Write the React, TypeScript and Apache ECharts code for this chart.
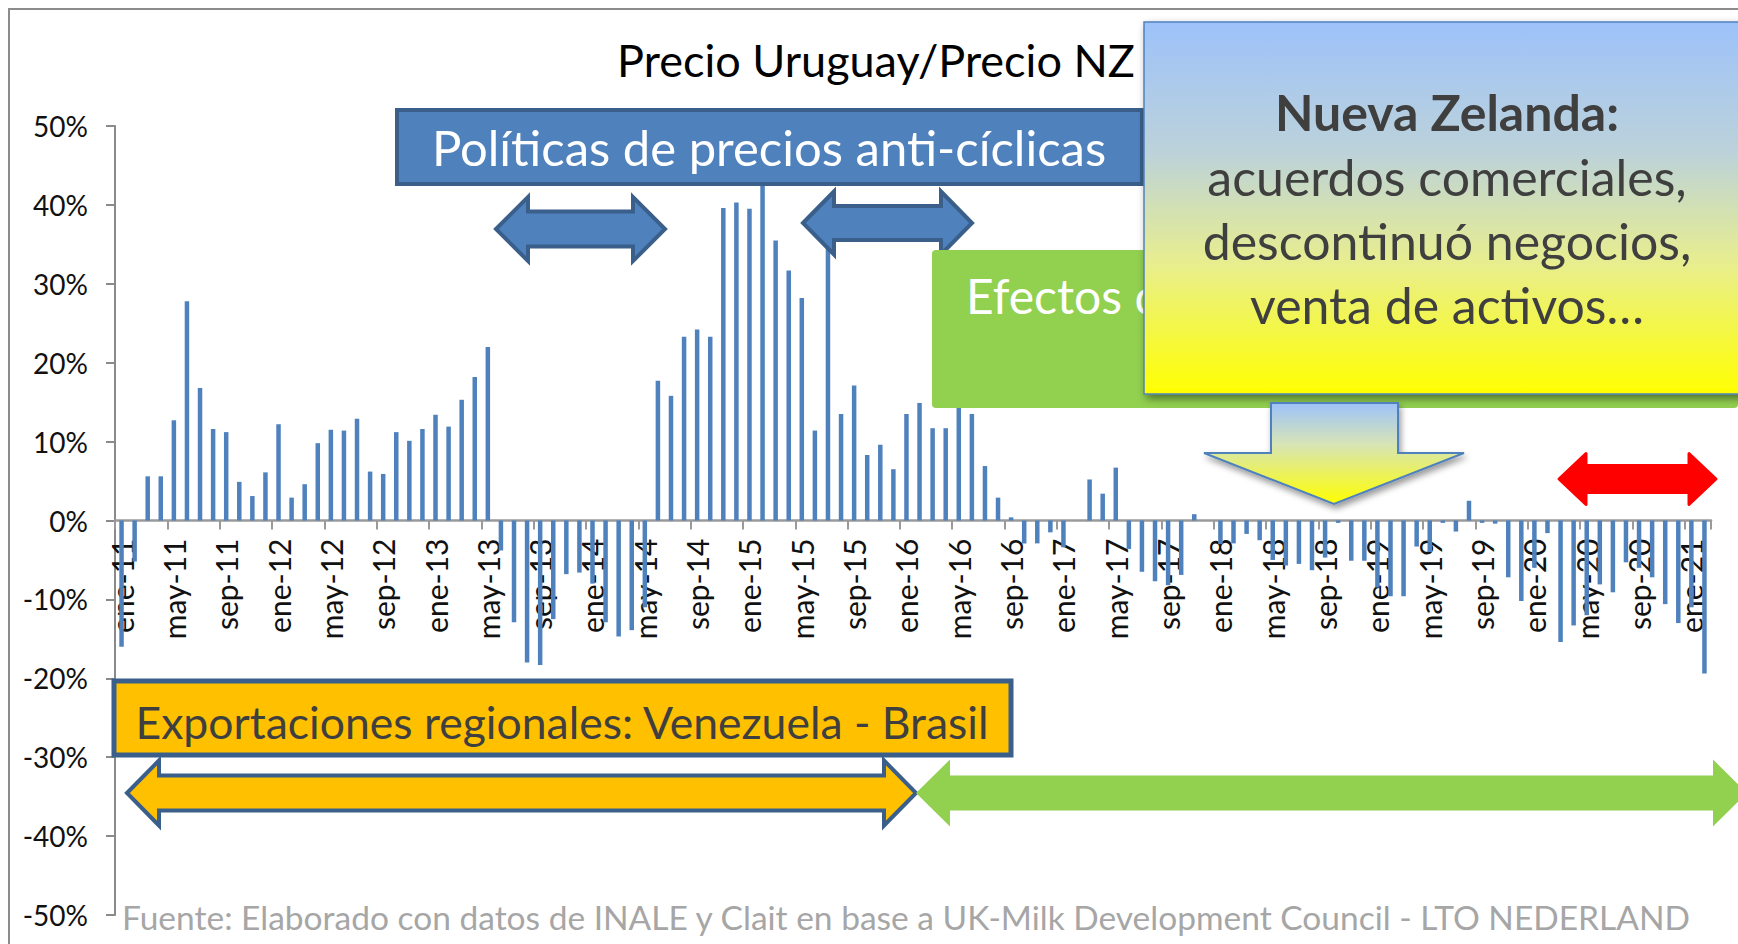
import React, { useEffect, useRef } from "react";
import * as echarts from "echarts";

// ---- data ----
const MONTHS = ["ene", "feb", "mar", "abr", "may", "jun", "jul", "ago", "sep", "oct", "nov", "dic"];
const YEARS = ["11", "12", "13", "14", "15", "16", "17", "18", "19", "20", "21"];
const N_MONTHS = 122; // ene-11 .. feb-21

const categories: string[] = [];
for (const y of YEARS) {
  for (const m of MONTHS) {
    if (categories.length < N_MONTHS) categories.push(`${m}-${y}`);
  }
}

// Precio Uruguay / Precio NZ - 1, in %
const values2011 = [-16.0, -5.2, 5.6, 5.6, 12.7, 27.8, 16.8, 11.6, 11.2, 4.9, 3.1, 6.1];
const values2012 = [12.2, 2.9, 4.6, 9.8, 11.5, 11.4, 12.9, 6.2, 5.9, 11.2, 10.1, 11.6];
const values2013 = [13.4, 11.9, 15.3, 18.2, 22.0, -3.8, -12.9, -18.0, -18.3, -12.5, -6.8, -6.6];
const values2014 = [-8.0, -12.9, -14.7, -13.9, -11.0, 17.7, 15.8, 23.3, 24.2, 23.3, 39.6, 40.3];
const values2015 = [39.5, 43.0, 35.5, 31.7, 28.2, 11.4, 36.0, 13.5, 17.1, 8.3, 9.6, 6.5];
const values2016 = [13.5, 14.9, 11.7, 11.7, 16.0, 13.5, 6.9, 2.9, 0.4, -2.9, -2.9, -1.5];
const values2017 = [-3.4, 0, 5.2, 3.4, 6.7, -3.6, -6.5, -7.7, -8.2, -6.9, 0.8, 0];
const values2018 = [-3.0, -2.9, -1.7, -2.5, -5.0, -5.7, -5.5, -6.3, -4.7, -0.3, -5.1, -5.1];
const values2019 = [-8.5, -9.6, -9.6, -3.3, -4.0, -0.3, -1.4, 2.5, -0.3, -0.4, -7.2, -10.2];
const values2020 = [-6.0, -1.6, -15.4, -13.3, -12.0, -8.1, -9.1, -5.3, -6.0, -7.2, -10.6, -13.0];
const values2021 = [-11.0, -19.4];

const values = [
  ...values2011, ...values2012, ...values2013, ...values2014, ...values2015, ...values2016,
  ...values2017, ...values2018, ...values2019, ...values2020, ...values2021,
];

const Y_MIN = -50;
const Y_MAX = 50;
const Y_INTERVAL = 10;

const TITLE = "Precio Uruguay/Precio NZ";
const NOTE_POLITICAS = "Políticas de precios anti-cíclicas";
const NOTE_EFECTOS = "Efectos de";
const NOTE_NZ_TITLE = "Nueva Zelanda:";
const NOTE_NZ_LINES = ["acuerdos comerciales,", "descontinuó negocios,", "venta de activos…"];
const NOTE_EXPORT = "Exportaciones regionales: Venezuela - Brasil";
const SOURCE = "Fuente: Elaborado con datos de INALE y Clait en base a UK-Milk Development Council - LTO NEDERLAND";

const FONT = "Lato, 'Open Sans', 'Noto Sans', sans-serif";

// layout (pixels)
const GRID_TOP = 126;
const GRID_BOTTOM = 29;
const CHART_H = 944;

function dblArrow(x1: number, x2: number, cy: number, hl: number, hh: number, sh: number) {
  return [
    [x1, cy], [x1 + hl, cy - hh], [x1 + hl, cy - sh], [x2 - hl, cy - sh], [x2 - hl, cy - hh],
    [x2, cy], [x2 - hl, cy + hh], [x2 - hl, cy + sh], [x1 + hl, cy + sh], [x1 + hl, cy + hh],
  ];
}

function txt(text: string, x: number, y: number, size: number, fill: string, align = "center", weight = "normal", z = 110) {
  return {
    type: "text",
    x,
    y,
    z,
    silent: true,
    style: {
      text,
      fill,
      fontSize: size,
      fontFamily: FONT,
      fontWeight: weight,
      align,
      verticalAlign: "middle",
      textAlign: align,
      textVerticalAlign: "middle",
    },
  };
}

export default function App() {
  const ref = useRef<HTMLDivElement>(null);

  useEffect(() => {
    if (!ref.current) return;
    const chart = echarts.init(ref.current, undefined, { renderer: "svg" });

    const blueFill = "#4F81BD";
    const blueStroke = "#3A5F8B";
    const green = "#92D050";

    const yellowGrad = new echarts.graphic.LinearGradient(0, 0, 0, 1, [
      { offset: 0, color: "#9DC2FA" },
      { offset: 0.35, color: "#BCD2DA" },
      { offset: 0.65, color: "#E8EE8E" },
      { offset: 1, color: "#FFFF00" },
    ]);
    const arrowGrad = new echarts.graphic.LinearGradient(0, 0, 0, 1, [
      { offset: 0, color: "#9DC2FA" },
      { offset: 0.4, color: "#D6E4B8" },
      { offset: 1, color: "#FFFF00" },
    ]);

    const plotH = CHART_H - GRID_TOP - GRID_BOTTOM;
    const zeroOffset = -plotH * (0 - Y_MIN) / (Y_MAX - Y_MIN);

    const graphic: any[] = [
      {
        type: "rect", z: 1, silent: true,
        shape: { x: 9, y: 9, width: 1780, height: 980 },
        style: { fill: "none", stroke: "#8C8C8C", lineWidth: 2 },
      },
      txt(TITLE, 876, 60, 45, "#000000"),
      {
        type: "rect", z: 100, silent: true,
        shape: { x: 397, y: 110, width: 745, height: 74 },
        style: { fill: blueFill, stroke: blueStroke, lineWidth: 4 },
      },
      txt(NOTE_POLITICAS, 769, 147, 49, "#FFFFFF", "center", "normal", 100),
      {
        type: "polygon", z: 100, silent: true,
        shape: { points: dblArrow(496, 665, 229, 32, 32, 17.5) },
        style: { fill: blueFill, stroke: blueStroke, lineWidth: 4 },
      },
      {
        type: "polygon", z: 100, silent: true,
        shape: { points: dblArrow(803, 972, 223, 31, 31.5, 17) },
        style: { fill: blueFill, stroke: blueStroke, lineWidth: 4 },
      },
      {
        type: "rect", z: 100, silent: true,
        shape: { x: 932, y: 250, width: 806, height: 158, r: 4 },
        style: { fill: green },
      },
      txt(NOTE_EFECTOS, 966, 295, 48, "#FFFFFF", "left", "normal", 100),
      {
        type: "rect", z: 105, silent: true,
        shape: { x: 1144, y: 22, width: 640, height: 372 },
        style: {
          fill: yellowGrad, stroke: "#4F81BD", lineWidth: 1.5,
          shadowBlur: 8, shadowOffsetX: 3, shadowOffsetY: 4, shadowColor: "rgba(0,0,0,0.45)",
        },
      },
      txt(NOTE_NZ_TITLE, 1447, 112, 50, "#3F3F3F", "center", "bold"),
      txt(NOTE_NZ_LINES[0], 1447, 177, 50, "#3F3F3F"),
      txt(NOTE_NZ_LINES[1], 1447, 241, 50, "#3F3F3F"),
      txt(NOTE_NZ_LINES[2], 1447, 305, 50, "#3F3F3F"),
      {
        type: "polygon", z: 105, silent: true,
        shape: {
          points: [[1271, 403], [1398, 403], [1398, 453], [1464, 453], [1334, 504], [1204, 453], [1271, 453]],
        },
        style: {
          fill: arrowGrad, stroke: "#4F81BD", lineWidth: 2,
          shadowBlur: 6, shadowOffsetX: 2, shadowOffsetY: 4, shadowColor: "rgba(0,0,0,0.4)",
        },
      },
      {
        type: "polygon", z: 100, silent: true,
        shape: { points: dblArrow(1559, 1716, 479, 27, 25.5, 13.5) },
        style: { fill: "#FF0000", stroke: "#FF0000", lineWidth: 3, lineJoin: "round" },
      },
      {
        type: "rect", z: 100, silent: true,
        shape: { x: 114, y: 681, width: 897, height: 74 },
        style: { fill: "#FFC000", stroke: blueStroke, lineWidth: 5 },
      },
      txt(NOTE_EXPORT, 562, 721, 44.5, "#3F3F3F"),
      {
        type: "polygon", z: 100, silent: true,
        shape: { points: dblArrow(127, 916, 793, 32, 32.5, 17.5) },
        style: { fill: "#FFC000", stroke: blueStroke, lineWidth: 4 },
      },
      {
        type: "polygon", z: 100, silent: true,
        shape: { points: dblArrow(916, 1747, 793, 34, 33.5, 17.5) },
        style: { fill: green },
      },
      txt(SOURCE, 122, 917, 33.5, "#A6A6A6", "left"),
    ];

    chart.setOption({
      animation: false,
      textStyle: { fontFamily: FONT },
      grid: {
        left: 115, right: 27, top: GRID_TOP, bottom: GRID_BOTTOM,
        containLabel: false, outerBoundsMode: "none",
      },
      xAxis: {
        type: "category",
        data: categories,
        boundaryGap: true,
        position: "bottom",
        offset: zeroOffset,
        axisLine: { show: true, onZero: false, lineStyle: { color: "#9A9A9A", width: 2.5 } },
        axisTick: { show: true, interval: 3, length: 9, lineStyle: { color: "#9A9A9A", width: 2 } },
        axisLabel: {
          interval: 3, rotate: 90, fontSize: 30, margin: 18, color: "#111111", fontFamily: FONT,
        },
        splitLine: { show: false },
        z: 1,
      },
      yAxis: {
        type: "value",
        min: Y_MIN,
        max: Y_MAX,
        interval: Y_INTERVAL,
        axisLine: { show: true, lineStyle: { color: "#8A8A8A", width: 2 } },
        axisTick: { show: true, length: 9, lineStyle: { color: "#8A8A8A", width: 2 } },
        axisLabel: { formatter: "{value}%", fontSize: 28, margin: 27, color: "#111111", fontFamily: FONT },
        splitLine: { show: false },
      },
      series: [
        {
          type: "bar",
          data: values,
          barWidth: 4.5,
          itemStyle: { color: "#4F81BD" },
          z: 2,
        },
      ],
      graphic,
    });

    return () => chart.dispose();
  }, []);

  return (
    <div
      ref={ref}
      style={{ position: "fixed", left: 0, top: 0, width: 1738, height: CHART_H, background: "#ffffff" }}
    />
  );
}
